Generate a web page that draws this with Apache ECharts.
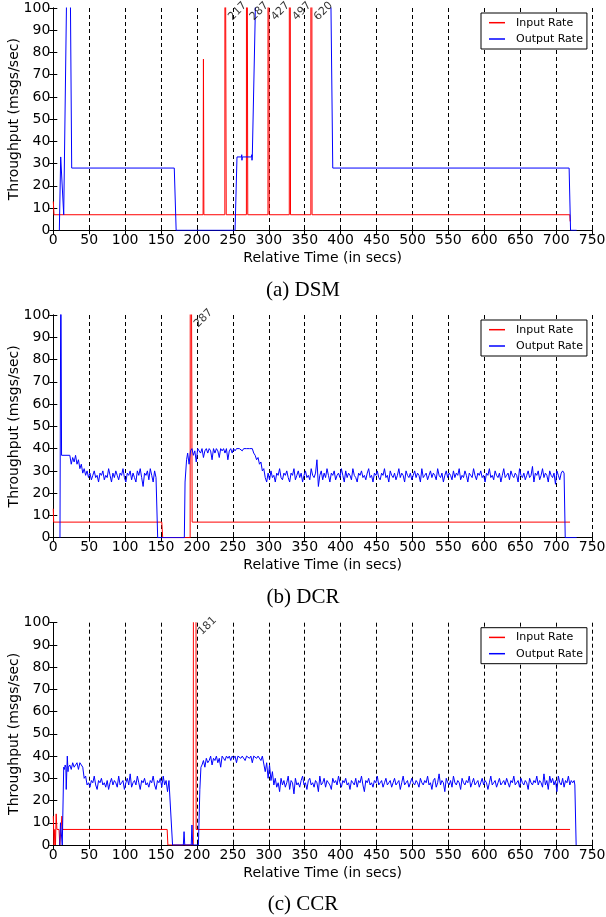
<!DOCTYPE html>
<html><head><meta charset="utf-8">
<script src="https://cdn.jsdelivr.net/npm/echarts/dist/echarts.min.js"></script>
<style>html,body{margin:0;padding:0;background:#fff}#c{width:606px;height:917px}</style>
</head><body><div id="c"></div>
<script>
// ---------------- DATA ----------------
const panelTitles = ['(a) DSM', '(b) DCR', '(c) CCR'];
const seriesNames = ['Input Rate', 'Output Rate'];
const xName = 'Relative Time (in secs)';
const yName = 'Throughput (msgs/sec)';
const xRange = [0, 750], xStep = 50;
const yRange = [0, 100], yStep = 10;
const sampleStep = 2; // seconds between noisy samples

// DSM
const dsmInput = [[0,13],[1,7],[208.5,7],[209,77],[209.6,7],[238.8,7],[239,217],[240.5,217],[240.7,7],
  [268.8,7],[269,287],[270.5,287],[270.7,7],[298.8,7],[299,427],[300.3,427],[300.5,7],
  [328.5,7],[328.7,497],[330,497],[330.2,7],[358.5,7],[358.7,620],[360,620],[360.2,7],[719,7],[719.4,4]];
const dsmOutput = [[8.4,0],[10.3,33],[12.4,33],[14.5,7],[17.2,7],[19.5,130],[23.2,130],[25.6,28],[168.4,28],[171,0],
  [253,0],[255.7,33],[262,33],[262.3,34],[262.6,31.5],[263,33],[276,33],[276.3,34],[276.6,31.5],[277,33],[278.5,33],
  [281,95],[282.5,130],[385.5,130],[389,28],[718,28],[720,0],[728.5,0]];

// DCR
const dcrInput = [[0,13],[0.5,7],[151,7],[152.3,0],[190.5,0],[190.8,287],[193,287],[193.3,7],[719.3,7]];
const dcrOutHead = [[9.3,0],[10.5,130],[11.5,37],[23,37],[25,33],[27,36],[29,34],[31,37],[33,33],[35,35],[37,31],[39,33],[41,29],[43,31],[45,28]];
const dcrOutNoise1Start = 47;
const dcrOutNoise1 = [30,27,29,26,28,30,27,28,25,29,28,30,26,28,27,31,28,25,29,27,30,28,26,29,28,31,27,25,29,28,30,26,29,27,25,30,28,31,27,23,29,28,30,26,31,28,25,30,27];
const dcrOutGap = [[145.3,0],[182.4,0],[183.4,25],[185.5,35]];
const dcrOutNoise2Start = 187;
const dcrOutNoise2 = [38,33,39,40,37,39,34,40,39,38,40,36,39,40,38,40,39,35,40,38,40,39,36,40,39,40,38,40,35,39,40,38,40,39,40,40,40,40,39,40,40,40,40,40,40,40];
const dcrOutDescent = [[279,38],[281,37],[283,35],[285,36],[287,33],[289,34],[291,30],[293,31],[295,27],[297,25]];
const dcrOutNoise3Start = 299;
const dcrOutNoise3 = [
  29,26,30,27,28,25,29,28,31,27,26,29,28,30,27,25,29,28,31,26,28,30,27,29,25,28,
  30,27,28,26,31,28,27,29,35,23,28,30,26,29,27,31,28,25,29,28,30,26,28,29,27,31,
  28,25,30,27,29,28,26,31,28,27,25,29,28,30,27,28,26,29,31,27,28,25,29,28,30,27,
  26,29,28,31,27,28,25,30,28,27,29,26,28,31,27,29,28,25,30,28,27,29,26,28,30,27,
  29,28,25,31,27,28,29,26,28,30,27,29,28,26,31,28,27,29,25,28,30,27,29,28,26,30,
  27,29,28,31,26,28,27,30,28,25,29,28,27,31,28,26,29,28,30,27,28,25,29,28,31,27,
  28,26,30,28,27,29,25,28,31,27,28,29,26,30,28,27,29,28,25,31,28,27,29,26,28,30,
  27,28,32,25,29,28,30,26,28,31,27,29,28,25,30,28,27,29,24,30,28,26,29,30];
const dcrOutTail = [[711,29],[712.6,0],[728.5,0]];

// CCR
const ccrInput = [[0,13],[1,0],[2,7],[3,0],[4,14],[5,7],[8,7],[9,0],[11,0],[12,13],[13,7],[158.5,7],[159.5,0],[194.8,0],[195.2,181],[198.5,181],[198.8,7],[719.3,7]];
const ccrOutHead = [[9,0],[10,10],[11.5,10],[12.5,0],[13.5,0],[14.5,35],[15.5,34],[16.5,36],[17.5,35],[18,25],[19.5,40],[20.5,33]];
const ccrOutNoise1Start = 21;
const ccrOutNoise1 = [35,36,34,37,35,36,37,34,37,36,35];
const ccrOutStep1 = [[43,30],[45,31]];
const ccrOutNoise2Start = 47;
const ccrOutNoise2 = [27,28,26,29,28,31,27,25,29,28,30,27,28,26,29,25,28,30,27,29,
  28,26,31,27,28,29,25,28,30,27,32,26,28,29,27,31,28,25,29,28,
  30,27,28,26,29,28,31,27,25,29,28,30,26,31,27,29,24,29];
const ccrOutGap = [[163.5,29],[166,0],[181,0],[182,6],[183,0],[192,0],[193,9],[194,0],[202,0],[204,25],[205.5,35]];
const ccrOutNoise3Start = 207;
const ccrOutNoise3 = [36,38,35,39,37,38,40,36,39,38,40,37,39,35,40,39,38,40,39,40,38,40,39,40,37,40,40,39,40,40,38,40,40,39,40,37,40,40,39,40,40,38,40];
const ccrOutDescent = [[293,40],[295,33],[297,37],[299,30],[301,36],[303,29],[305,33],[307,27],[309,30],[311,26]];
const ccrOutNoise4Start = 313;
const ccrOutNoise4 = [
  28,24,30,27,29,26,28,31,25,29,28,23,30,27,28,26,29,31,27,28,25,29,30,27,28,26,
  29,28,24,31,27,28,30,26,29,28,27,25,30,28,29,27,31,28,26,29,28,30,27,28,25,29,
  28,27,30,26,29,28,31,27,24,29,28,30,27,28,26,29,28,31,27,28,29,26,28,30,27,28,
  29,26,28,30,27,28,29,25,28,31,27,28,29,26,28,30,28,27,29,28,26,30,28,27,29,28,
  31,27,28,25,29,30,26,28,32,27,29,28,24,30,28,27,29,26,31,28,27,29,28,25,30,28,
  27,29,28,31,26,28,30,27,28,29,26,28,30,27,29,28,25,28,31,27,28,29,26,28,30,27,
  28,29,27,30,28,26,29,28,31,27,28,29,26,30,28,27,29,28,25,30,28,27,29,28,31,27,
  29,28,26,32,27,29,25,31,28,30,27,29,24,31,28,27,30,26,29,28,31,27,29,28,29];
const ccrOutTail = [[726,27],[727.8,0]];

// ---------------- BUILD ----------------
function seg(start, vals) { return vals.map((v, i) => [start + i * sampleStep, v]); }
const dcrOutput = [].concat(dcrOutHead, seg(dcrOutNoise1Start, dcrOutNoise1), dcrOutGap,
  seg(dcrOutNoise2Start, dcrOutNoise2), dcrOutDescent, seg(dcrOutNoise3Start, dcrOutNoise3), dcrOutTail);
const ccrOutput = [].concat(ccrOutHead, seg(ccrOutNoise1Start, ccrOutNoise1), ccrOutStep1,
  seg(ccrOutNoise2Start, ccrOutNoise2), ccrOutGap, seg(ccrOutNoise3Start, ccrOutNoise3), ccrOutDescent,
  seg(ccrOutNoise4Start, ccrOutNoise4), ccrOutTail);

const panels = [
  { input: dsmInput, output: dsmOutput },
  { input: dcrInput, output: dcrOutput },
  { input: ccrInput, output: ccrOutput }
];

function peakLabels(input) {
  const out = [];
  for (let i = 0; i < input.length; i++) {
    if (input[i][1] > yRange[1] && (i + 1 >= input.length || input[i + 1][1] <= yRange[1])) {
      out.push([input[i][0], yRange[1], input[i][1]]);
    }
  }
  return out;
}

// ---------------- LAYOUT / STYLE ----------------
const FONT = 'DejaVu Sans';
const SERIF = 'Liberation Serif';
const gridLeft = 53.3, gridWidth = 538.8;
const gridTops = [8, 315, 622.7];
const gridHeights = [222.3, 222.7, 222.3];
const titleTops = [280, 587, 894];

const grids = [], xAxes = [], yAxes = [], series = [], legends = [], titles = [];
const axisLine = { show: true, lineStyle: { color: '#000', width: 1 } };
const axisTick = { show: true, inside: true, length: 4, lineStyle: { color: '#000', width: 1 } };

panels.forEach((p, i) => {
  grids.push({ left: gridLeft, top: gridTops[i], width: gridWidth, height: gridHeights[i], containLabel: false, outerBoundsMode: 'none' });
  xAxes.push({
    type: 'value', gridIndex: i, min: xRange[0], max: xRange[1], interval: xStep, position: 'bottom',
    axisLine, axisTick,
    axisLabel: { show: true, fontSize: 14, fontFamily: FONT, color: '#000', margin: 3, showMinLabel: true, showMaxLabel: true, hideOverlap: false },
    splitLine: { show: true, lineStyle: { type: [4, 3], color: '#000', width: 1 } },
    name: xName, nameLocation: 'middle', nameGap: 21, nameMoveOverlap: false,
    nameTextStyle: { fontSize: 14, fontFamily: FONT, color: '#000', verticalAlign: 'top' }
  });
  xAxes.push({
    type: 'value', gridIndex: i, min: xRange[0], max: xRange[1], interval: xStep, position: 'top',
    axisLine, axisTick, axisLabel: { show: false }, splitLine: { show: false }
  });
  yAxes.push({
    type: 'value', gridIndex: i, min: yRange[0], max: yRange[1], interval: yStep, position: 'left',
    axisLine, axisTick,
    axisLabel: { show: true, fontSize: 14, fontFamily: FONT, color: '#000', margin: 3, showMinLabel: true, showMaxLabel: true },
    splitLine: { show: false },
    name: yName, nameLocation: 'middle', nameGap: 32, nameRotate: 90, nameMoveOverlap: false,
    nameTextStyle: { fontSize: 14, fontFamily: FONT, color: '#000' }
  });
  yAxes.push({
    type: 'value', gridIndex: i, min: yRange[0], max: yRange[1], interval: yStep, position: 'right',
    axisLine, axisTick, axisLabel: { show: false }, splitLine: { show: false }
  });
  series.push({
    name: seriesNames[0], type: 'line', xAxisIndex: i * 2, yAxisIndex: i * 2, data: p.input,
    symbol: 'none', showSymbol: false, clip: true, color: '#ff0000',
    lineStyle: { color: '#ff0000', width: 1 }, z: 2
  });
  series.push({
    name: seriesNames[1], type: 'line', xAxisIndex: i * 2, yAxisIndex: i * 2, data: p.output,
    symbol: 'none', showSymbol: false, clip: true, color: '#0000ff',
    lineStyle: { color: '#0000ff', width: 1 }, z: 3
  });
  series.push({
    type: 'scatter', xAxisIndex: i * 2, yAxisIndex: i * 2, data: peakLabels(p.input),
    symbolSize: 1, itemStyle: { color: 'rgba(0,0,0,0)' }, clip: false, z: 5,
    label: {
      show: true, formatter: (d) => String(d.value[2]), rotate: 45, align: 'left', verticalAlign: 'bottom',
      position: [8.5, 15], fontSize: 11, fontFamily: FONT, color: '#000'
    }
  });
  legends.push({
    data: seriesNames.map(n => ({ name: n, icon: 'rect' })), orient: 'vertical', left: 481, top: gridTops[i] + 5,
    padding: [3.7, 4, 4, 8], itemGap: 4.3, itemWidth: 16, itemHeight: 1.5,
    borderColor: '#000', borderWidth: 1, backgroundColor: '#fff', borderRadius: 0,
    textStyle: { fontSize: 11, fontFamily: FONT, color: '#000', padding: [0, 0, 0, 6], lineHeight: 12 },
    selectedMode: false
  });
  titles.push({
    text: panelTitles[i], left: 'center', top: titleTops[i], padding: 0,
    textStyle: { fontFamily: SERIF, fontSize: 21, fontWeight: 'normal', color: '#000' }
  });
});

const chart = echarts.init(document.getElementById('c'), null, { renderer: 'canvas' });
chart.setOption({
  animation: false,
  backgroundColor: '#fff',
  title: titles,
  legend: legends,
  grid: grids,
  xAxis: xAxes,
  yAxis: yAxes,
  series: series
});
</script>
</body></html>
